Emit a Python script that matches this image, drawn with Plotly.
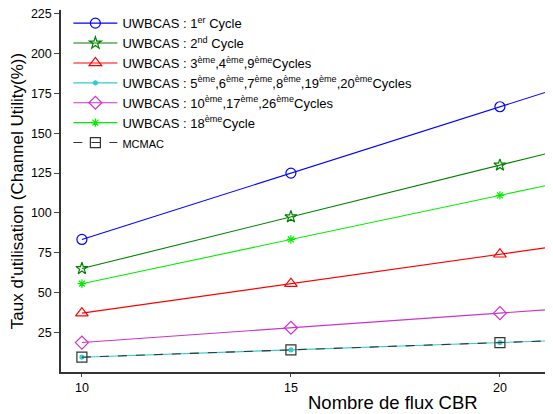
import plotly.graph_objects as go

# flux CBR
flux = [10, 15, 20, 25]

# taux d'utilisation (%)
cycle_1 = [83.3, 125.0, 166.7, 208.3]
cycle_2 = [65.0, 97.5, 130.0, 162.5]
cycles_3_4_9 = [37.0, 55.5, 74.0, 92.5]
cycles_5_20 = [9.3, 13.9, 18.5, 23.1]
cycles_10_17_26 = [18.5, 27.8, 37.0, 46.3]
cycle_18 = [55.5, 83.3, 111.0, 138.8]
mcmac = [9.3, 13.9, 18.5, 23.1]

y_ticks = [25, 50, 75, 100, 125, 150, 175, 200, 225]
x_ticks = [10, 15, 20]

FONT = "Arial, Liberation Sans, sans-serif"

series = [
    ("UWBCAS : 1<sup>er</sup> Cycle", cycle_1, "#0000FF", "circle-open", 10, "solid"),
    ("UWBCAS : 2<sup>nd</sup> Cycle", cycle_2, "#008000", "star-open", 9, "solid"),
    ("UWBCAS : 3<sup>ème</sup>,4<sup>ème</sup>,9<sup>ème</sup>Cycles", cycles_3_4_9, "#FF0000", "triangle-up-open", 11, "solid"),
    ("UWBCAS : 5<sup>ème</sup>,6<sup>ème</sup>,7<sup>ème</sup>,8<sup>ème</sup>,19<sup>ème</sup>,20<sup>ème</sup>Cycles", cycles_5_20, "#33CCCC", "circle", 4, "solid"),
    ("UWBCAS : 10<sup>ème</sup>,17<sup>ème</sup>,26<sup>ème</sup>Cycles", cycles_10_17_26, "#CC33CC", "diamond-open", 10, "solid"),
    ("UWBCAS : 18<sup>ème</sup>Cycle", cycle_18, "#00EE00", "asterisk-open", 7, "solid"),
    ("<span style='font-size:11px'>MCMAC</span>", mcmac, "#333333", "square-open", 10, "dash"),
]

fig = go.Figure()
for name, ys, color, symbol, size, dash in series:
    marker_line = "#555555" if "MCMAC" in name else color
    fig.add_trace(go.Scatter(
        x=flux, y=ys, name=name, mode="lines+markers",
        line=dict(color=color, width=1.1, dash=dash),
        marker=dict(symbol=symbol, size=size, color=color,
                    line=dict(color=marker_line, width=1.2)),
    ))

# page body adds an 8px margin, so the figure is sized to 545x406
fig.update_layout(
    width=545, height=406,
    margin=dict(l=53, r=0, t=2, b=42),
    plot_bgcolor="white", paper_bgcolor="white",
    font=dict(family=FONT, size=12, color="black"),
    showlegend=True,
    legend=dict(x=0.015, y=1.005, xanchor="left", yanchor="top",
                bgcolor="rgba(0,0,0,0)", font=dict(size=13),
                itemwidth=44, tracegroupgap=0),
)

fig.update_xaxes(
    range=[9.5, 21.27], tickvals=x_ticks, ticks="outside", ticklen=3,
    showline=True, linecolor="#333333", linewidth=1.5, showgrid=False,
    zeroline=False, tickfont=dict(size=12.5),
)
fig.update_yaxes(
    range=[0, 227.5], tickvals=y_ticks, ticks="outside", ticklen=5,
    showline=True, linecolor="#333333", linewidth=1.5, showgrid=False,
    zeroline=False, tickfont=dict(size=12.5), ticklabeloverflow="allow",
    title=dict(text="Taux d'utilisation (Channel Utility(%))",
               font=dict(size=17), standoff=6),
)

# x title sits off-centre in the original (axes were cropped on the right)
fig.add_annotation(
    text="Nombre de flux CBR", xref="paper", yref="paper",
    x=(393 - 8 - 53) / 492, y=-0.083, xanchor="center", yanchor="middle",
    showarrow=False, font=dict(size=18.5),
)

fig.write_html("out.html")
